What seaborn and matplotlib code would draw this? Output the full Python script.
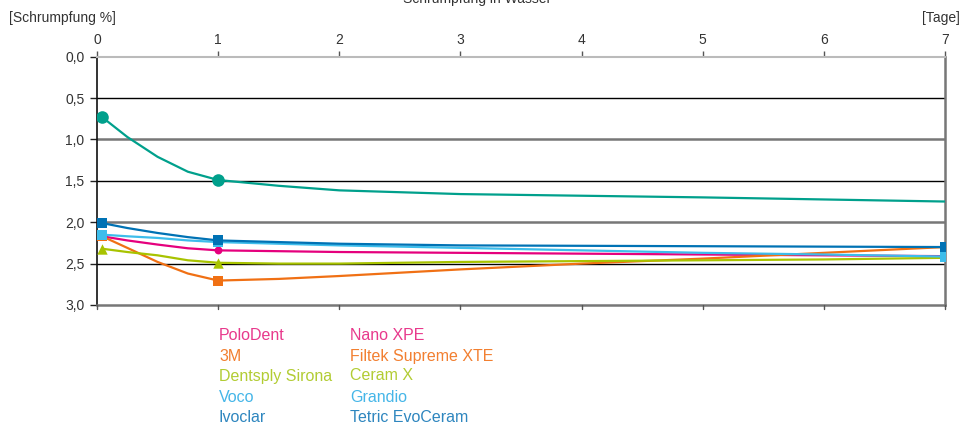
import matplotlib
matplotlib.use("Agg")
import matplotlib.pyplot as plt
import seaborn as sns
import pandas as pd

# --------------------------------
# DATA
# --------------------------------

curve_days = [1 / 24, 0.25, 0.5, 0.75, 1, 1.5, 2, 3, 4, 5, 6, 7]

teal = [0.73, 0.97, 1.21, 1.39, 1.49, 1.56, 1.615, 1.66, 1.68, 1.70, 1.725, 1.75]
ivoclar = [2.01, 2.07, 2.13, 2.18, 2.22, 2.24, 2.26, 2.28, 2.285, 2.29, 2.295, 2.30]
voco = [2.15, 2.17, 2.19, 2.22, 2.24, 2.26, 2.28, 2.31, 2.34, 2.37, 2.39, 2.415]
polodent = [2.17, 2.22, 2.27, 2.315, 2.34, 2.35, 2.36, 2.37, 2.38, 2.39, 2.40, 2.41]
dentsply = [2.32, 2.36, 2.40, 2.46, 2.49, 2.50, 2.50, 2.48, 2.47, 2.46, 2.45, 2.43]
mmm = [2.17, 2.31, 2.48, 2.62, 2.705, 2.685, 2.65, 2.57, 2.50, 2.44, 2.37, 2.30]

series_names = ["Teal", "PoloDent", "3M", "Dentsply Sirona", "Voco", "Ivoclar"]
series_values = [teal, polodent, mmm, dentsply, voco, ivoclar]

marker_days = [1 / 24, 1]
end_marker_series = ["Voco", "Ivoclar"]

manufacturers = ["PoloDent", "3M", "Dentsply Sirona", "Voco", "Ivoclar"]
products = ["Nano XPE", "Filtek Supreme XTE", "Ceram X", "Grandio", "Tetric EvoCeram"]

x_ticks = [0, 1, 2, 3, 4, 5, 6, 7]
y_ticks = [0.0, 0.5, 1.0, 1.5, 2.0, 2.5, 3.0]

colors = {
    "Teal": "#00A08C",
    "PoloDent": "#E5007D",
    "3M": "#F07014",
    "Dentsply Sirona": "#A8C300",
    "Voco": "#3DBDEB",
    "Ivoclar": "#0072B4",
}
text_colors = {
    "PoloDent": "#E8398C",
    "3M": "#F27F30",
    "Dentsply Sirona": "#B2CC33",
    "Voco": "#45B6E8",
    "Ivoclar": "#2E86BF",
}
markers = {"Teal": "o", "PoloDent": "o", "3M": "s", "Dentsply Sirona": "^",
           "Voco": "s", "Ivoclar": "s"}
sizes = {"Teal": 82, "PoloDent": 32, "3M": 46, "Dentsply Sirona": 56,
         "Voco": 46, "Ivoclar": 46}

rows = []
for name, vals in zip(series_names, series_values):
    for d, v in zip(curve_days, vals):
        rows.append({"series": name, "day": d, "value": v})
df = pd.DataFrame(rows)

mrows = df[df["day"].isin(marker_days)]
end_rows = df[(df["day"] == 7) & (df["series"].isin(end_marker_series))]
df_markers = pd.concat([mrows, end_rows])

# --------------------------------
# PLOT
# --------------------------------

sns.set_style("white")
plt.rcParams["font.family"] = ["Liberation Sans", "DejaVu Sans"]

fig = plt.figure(figsize=(9.74, 4.23), dpi=100)
ax = fig.add_axes([0.0996, 0.279, 0.8706, 0.587])

# gridlines
for y in [0.5, 1.5, 2.5]:
    ax.axhline(y, color="black", lw=1.0, zorder=1)
for y in [1.0, 2.0]:
    ax.axhline(y, color="#777777", lw=1.8, zorder=1)

sns.lineplot(data=df, x="day", y="value", hue="series", hue_order=series_names,
             palette=colors, lw=1.6, legend=False, ax=ax, zorder=3)

for name in series_names:
    sub = df_markers[df_markers["series"] == name]
    sns.scatterplot(data=sub, x="day", y="value", color=colors[name],
                    marker=markers[name], s=sizes[name], linewidth=0,
                    legend=False, ax=ax, zorder=4)

ax.set_xlim(0, 7)
ax.set_ylim(3.0, 0.0)
ax.set_xlabel("")
ax.set_ylabel("")

ax.xaxis.tick_top()
ax.set_xticks(x_ticks)
ax.set_xticklabels([str(t) for t in x_ticks])
ax.set_yticks(y_ticks)
ax.set_yticklabels([f"{t:.1f}".replace(".", ",") for t in y_ticks])
ax.tick_params(axis="x", which="both", top=True, bottom=False, direction="out",
               length=4, width=1, color="#555555", labelsize=10,
               labelcolor="#333333", pad=3)
ax.tick_params(axis="y", direction="out", length=5, width=1, color="#222222",
               labelsize=10, labelcolor="#333333", pad=4, left=True)

# bottom ticks drawn on the 3,0 line
for t in x_ticks:
    ax.plot([t, t], [3.0, 3.05], color="#555555", lw=1, clip_on=False, zorder=5)

for side, col, lw in [("top", "#BBBBBB", 1.5), ("left", "#111111", 1.2),
                      ("right", "#777777", 1.8), ("bottom", "#777777", 1.8)]:
    ax.spines[side].set_visible(True)
    ax.spines[side].set_color(col)
    ax.spines[side].set_linewidth(lw)

fig.text(0.49, 1 - 3 / 423, "Schrumpfung in Wasser", ha="center", va="baseline",
         fontsize=10, color="#333333")
fig.text(9 / 974, 1 - 18 / 423, "[Schrumpfung %]", ha="left", va="center",
         fontsize=10, color="#333333")
fig.text(960 / 974, 1 - 18 / 423, "[Tage]", ha="right", va="center",
         fontsize=10, color="#333333")

# text legend
row_y = [335, 356, 376, 397, 417]
for man, prod, yy in zip(manufacturers, products, row_y):
    c = text_colors[man]
    fig.text(219 / 974, 1 - yy / 423, man, ha="left", va="center",
             fontsize=11.5, color=c)
    fig.text(350 / 974, 1 - yy / 423, prod, ha="left", va="center",
             fontsize=11.5, color=c)

fig.savefig("out.png", dpi=100)
